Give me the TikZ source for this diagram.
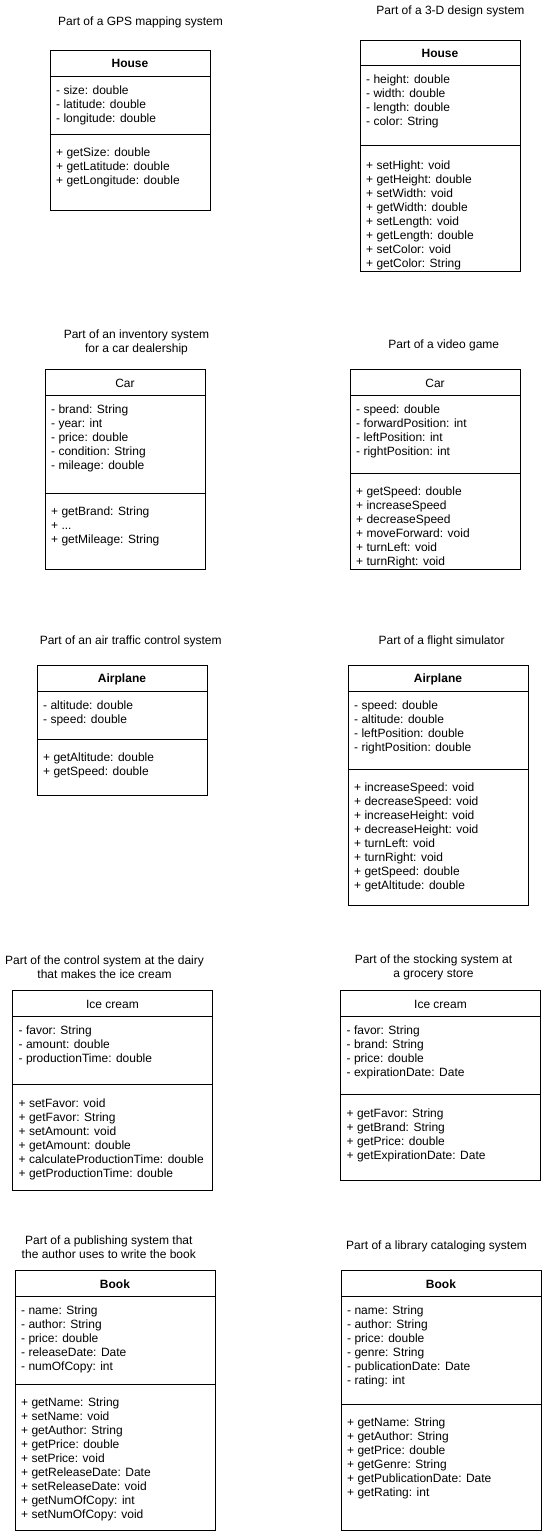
\documentclass[tikz,border=0pt]{standalone}
\usepackage{fontspec}
\setmainfont{Liberation Sans}
\usepackage{tikz}
\tikzset{>=stealth}
\tikzset{
    classbox/.style={draw=black, line width=1pt},
    classname/.style={anchor=center, inner sep=0pt, yshift=-0.6pt},
    members/.style={anchor=north west, align=left, inner sep=0pt, yshift=-0.8pt},
    caption/.style={align=center, inner sep=0pt, yshift=-0.8pt}
}

\begin{document}
\begin{tikzpicture}[x=1pt, y=-1pt, every node/.style={font=\fontsize{12}{14}\selectfont}]
    \useasboundingbox (0,0) rectangle (542,1534);

    \node[caption] (gpstitle) at (140.5,21.7) {Part of a GPS mapping system};
    \draw[classbox] (50,50) rectangle (210,210);
    \draw[classbox] (50,76) -- (210,76);
    \draw[classbox] (50,134.5) -- (210,134.5);
    \node[classname] (gpshouse) at (130,63) {\textbf{House}};
    \node[members] (gpsattr) at (56,84.8) {- size: double\\- latitude: double\\- longitude: double};
    \node[members] (gpsmeth) at (56,146.8) {+ getSize: double\\+ getLatitude: double\\+ getLongitude: double};

    \node[caption] (designtitle) at (450.4,10.7) {Part of a 3-D design system};
    \draw[classbox] (360,40) rectangle (520,271);
    \draw[classbox] (360,65.5) -- (520,65.5);
    \draw[classbox] (360,145.5) -- (520,145.5);
    \node[classname] (designhouse) at (440,52.5) {\textbf{House}};
    \node[members] (designattr) at (366,73.8) {- height: double\\- width: double\\- length: double\\- color: String};
    \node[members] (designmeth) at (366,159.8) {+ setHight: void\\+ getHeight: double\\+ setWidth: void\\+ getWidth: double\\+ setLength: void\\+ getLength: double\\+ setColor: void\\+ getColor: String};

    \node[caption] (dealertitle) at (136.5,341.7) {Part of an inventory system\\for a car dealership};
    \draw[classbox] (45,369.5) rectangle (205,569.5);
    \draw[classbox] (45,395) -- (205,395);
    \draw[classbox] (45,493.5) -- (205,493.5);
    \node[classname] (dealercar) at (125,382.3) {Car};
    \node[members] (dealerattr) at (51,404.1) {- brand: String\\- year: int\\- price: double\\- condition: String\\- mileage: double};
    \node[members] (dealermeth) at (51,506.1) {+ getBrand: String\\+ ...\\+ getMileage: String};

    \node[caption] (gametitle) at (443.8,345) {Part of a video game};
    \draw[classbox] (350,369.5) rectangle (520,569.5);
    \draw[classbox] (350,395) -- (520,395);
    \draw[classbox] (350,473.5) -- (520,473.5);
    \node[classname] (gamecar) at (435,382.3) {Car};
    \node[members] (gameattr) at (356,404.1) {- speed: double\\- forwardPosition: int\\- leftPosition: int\\- rightPosition: int};
    \node[members] (gamemeth) at (356,485.8) {+ getSpeed: double\\+ increaseSpeed\\+ decreaseSpeed\\+ moveForward: void\\+ turnLeft: void\\+ turnRight: void};

    \node[caption] (traffictitle) at (130.7,640.7) {Part of an air traffic control system};
    \draw[classbox] (37,665.5) rectangle (207,795.5);
    \draw[classbox] (37,691.5) -- (207,691.5);
    \draw[classbox] (37,739.5) -- (207,739.5);
    \node[classname] (trafficplane) at (122,678.5) {\textbf{Airplane}};
    \node[members] (trafficattr) at (43,699.8) {- altitude: double\\- speed: double};
    \node[members] (trafficmeth) at (43,751.8) {+ getAltitude: double\\+ getSpeed: double};

    \node[caption] (simtitle) at (441.6,640.7) {Part of a flight simulator};
    \draw[classbox] (348,665.5) rectangle (528,905.5);
    \draw[classbox] (348,691.5) -- (528,691.5);
    \draw[classbox] (348,769.5) -- (528,769.5);
    \node[classname] (simplane) at (438,678.5) {\textbf{Airplane}};
    \node[members] (simattr) at (354,699.8) {- speed: double\\- altitude: double\\- leftPosition: double\\- rightPosition: double};
    \node[members] (simmeth) at (354,781.8) {+ increaseSpeed: void\\+ decreaseSpeed: void\\+ increaseHeight: void\\+ decreaseHeight: void\\+ turnLeft: void\\+ turnRight: void\\+ getSpeed: double\\+ getAltitude: double};

    \node[caption] (dairytitle) at (104.5,966.3) {Part of the control system at the dairy\\that makes the ice cream};
    \draw[classbox] (12.5,990.5) rectangle (212.5,1190);
    \draw[classbox] (12.5,1016.5) -- (212.5,1016.5);
    \draw[classbox] (12.5,1084.5) -- (212.5,1084.5);
    \node[classname] (dairyice) at (112.5,1003.5) {Ice cream};
    \node[members] (dairyattr) at (18.5,1024.8) {- favor: String\\- amount: double\\- productionTime: double};
    \node[members] (dairymeth) at (18.5,1097.4) {+ setFavor: void\\+ getFavor: String\\+ setAmount: void\\+ getAmount: double\\+ calculateProductionTime: double\\+ getProductionTime: double};

    \node[caption] (grocerytitle) at (433.5,966.3) {Part of the stocking system at\\a grocery store};
    \draw[classbox] (340.5,990.5) rectangle (540.5,1180);
    \draw[classbox] (340.5,1016.5) -- (540.5,1016.5);
    \draw[classbox] (340.5,1094.5) -- (540.5,1094.5);
    \node[classname] (groceryice) at (440.5,1003.5) {Ice cream};
    \node[members] (groceryattr) at (346.5,1024.8) {- favor: String\\- brand: String\\- price: double\\- expirationDate: Date};
    \node[members] (grocerymeth) at (346.5,1107.4) {+ getFavor: String\\+ getBrand: String\\+ getPrice: double\\+ getExpirationDate: Date};

    \node[caption] (publishtitle) at (108.8,1246) {Part of a publishing system that\\the author uses to write the book};
    \draw[classbox] (15,1270.5) rectangle (215,1530.5);
    \draw[classbox] (15,1296.5) -- (215,1296.5);
    \draw[classbox] (15,1384.5) -- (215,1384.5);
    \node[classname] (publishbook) at (115,1283.5) {\textbf{Book}};
    \node[members] (publishattr) at (21,1304.8) {- name: String\\- author: String\\- price: double\\- releaseDate: Date\\- numOfCopy: int};
    \node[members] (publishmeth) at (21,1396.8) {+ getName: String\\+ setName: void\\+ getAuthor: String\\+ getPrice: double\\+ setPrice: void\\+ getReleaseDate: Date\\+ setReleaseDate: void\\+ getNumOfCopy: int\\+ setNumOfCopy: void};

    \node[caption] (librarytitle) at (436.6,1245.7) {Part of a library cataloging system};
    \draw[classbox] (341,1270.5) rectangle (541,1530.5);
    \draw[classbox] (341,1296.5) -- (541,1296.5);
    \draw[classbox] (341,1404.5) -- (541,1404.5);
    \node[classname] (librarybook) at (441,1283.5) {\textbf{Book}};
    \node[members] (libraryattr) at (347,1304.8) {- name: String\\- author: String\\- price: double\\- genre: String\\- publicationDate: Date\\- rating: int};
    \node[members] (librarymeth) at (347,1416.8) {+ getName: String\\+ getAuthor: String\\+ getPrice: double\\+ getGenre: String\\+ getPublicationDate: Date\\+ getRating: int};
\end{tikzpicture}
\end{document}
